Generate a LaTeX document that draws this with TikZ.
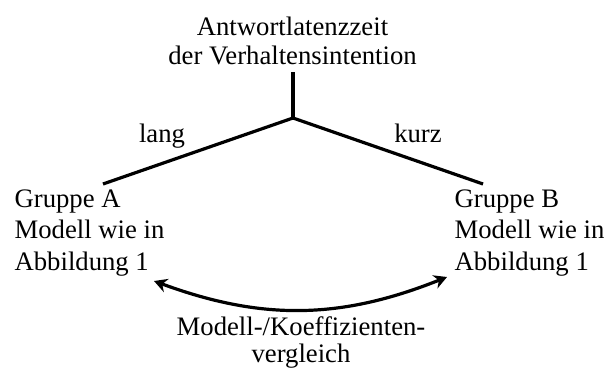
\documentclass[tikz,border=0pt]{standalone}
\usepackage{fontspec}
\setmainfont{Liberation Serif}
\usetikzlibrary{arrows.meta}
\newlength{\du}
\setlength{\du}{1pt}

\begin{document}
\begin{tikzpicture}[
  schrift/.style={inner sep=0pt, font=\fontsize{26.700000\du}{29.000000\du}\selectfont},
  gruppe/.style={schrift, align=left, anchor=base west, font=\fontsize{26.700000\du}{31.500000\du}\selectfont},
  pfeil/.style={arrows={Stealth[length=13pt,width=14pt]-Stealth[length=13pt,width=14pt]}}
]
\pgftransformxscale{1.000000}
\pgftransformyscale{-1.000000}
\useasboundingbox (0\du,0\du) rectangle (604.000000\du,367.000000\du);
\definecolor{dialinecolor}{rgb}{0.000000, 0.000000, 0.000000}
\pgfsetstrokecolor{dialinecolor}
\pgfsetlinewidth{3.200000\du}
% Kopf
\node[schrift, align=center, anchor=base] (titel) at (292.500000\du,64.000000\du){Antwortlatenzzeit\\der Verhaltensintention};
\coordinate (gabel) at (293.000000\du,118.000000\du);
\coordinate (astA) at (103.000000\du,184.000000\du);
\coordinate (astB) at (483.000000\du,184.000000\du);
\draw (293.000000\du,72.000000\du)--(gabel);
\draw (gabel)--(astA);
\draw (gabel)--(astB);
\node[schrift, anchor=base] (lang) at (162.000000\du,142.000000\du){lang};
\node[schrift, anchor=base] (kurz) at (418.000000\du,142.000000\du){kurz};
% Gruppen
\node[gruppe] (gruppeA) at (13.000000\du,270.000000\du){Gruppe A\\Modell wie in\\Abbildung 1};
\node[gruppe] (gruppeB) at (453.000000\du,270.000000\du){Gruppe B\\Modell wie in\\Abbildung 1};
% Vergleich
\coordinate (spitzeA) at (154.000000\du,281.000000\du);
\coordinate (spitzeB) at (447.000000\du,277.000000\du);
{
\draw[pfeil] (spitzeA) to[bend left=21] (spitzeB);
}
\node[schrift, align=center, anchor=base, font=\fontsize{26.700000\du}{27.000000\du}\selectfont] (vergleich) at (301.000000\du,362.000000\du){Modell-/Koeffizienten-\\vergleich};
\end{tikzpicture}
\end{document}
